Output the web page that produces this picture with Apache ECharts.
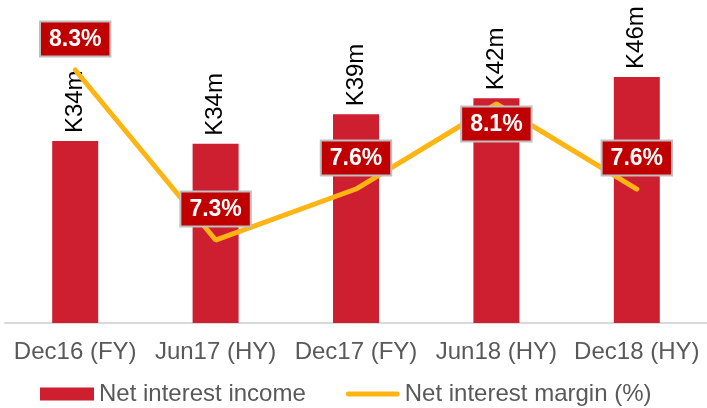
<!DOCTYPE html>
<html>
<head>
<meta charset="utf-8">
<script src="https://cdn.jsdelivr.net/npm/echarts@6/dist/echarts.min.js"></script>
<style>
html,body{margin:0;padding:0;background:#fff;}
#chart{width:707px;height:408px;}
</style>
</head>
<body>
<div id="chart"></div>
<script>
const categories = ['Dec16 (FY)', 'Jun17 (HY)', 'Dec17 (FY)', 'Jun18 (HY)', 'Dec18 (HY)'];
const incomeValues = [34.0, 33.5, 39.0, 42.0, 46.0];
const incomeLabels = ['K34m', 'K34m', 'K39m', 'K42m', 'K46m'];
const marginValues = [8.3, 7.3, 7.6, 8.1, 7.6];
const marginLabels = ['8.3%', '7.3%', '7.6%', '8.1%', '7.6%'];
const marginLabelBelow = [false, false, false, true, false];

const FONT = '"Liberation Sans", Arial, sans-serif';
const LINE_COLOR = '#FFB511';
const chart = echarts.init(document.getElementById('chart'), null, {renderer: 'canvas'});

chart.setOption({
  animation: false,
  backgroundColor: '#ffffff',
  textStyle: {fontFamily: FONT},
  grid: {left: 5, width: 707, top: 2, height: 321, containLabel: false},
  legend: {
    left: 35, top: 377,
    itemWidth: 54, itemHeight: 13, itemGap: 40,
    textStyle: {fontSize: 24, color: '#595959', fontFamily: FONT, padding: [0, 0, 5, 0]},
    data: [
      {name: 'Net interest income', icon: 'rect'},
      {name: 'Net interest margin (%)',
       icon: 'path://M2.5,0 L53.5,0 A2.5,2.5 0 0 1 53.5,5 L2.5,5 A2.5,2.5 0 0 1 2.5,0 Z',
       itemStyle: {color: LINE_COLOR}}
    ]
  },
  xAxis: {
    type: 'category',
    data: categories,
    axisLine: {show: true, lineStyle: {color: '#D9D9D9', width: 2}},
    axisTick: {show: false},
    axisLabel: {fontSize: 24, color: '#595959', margin: 17, fontFamily: FONT, interval: 0}
  },
  yAxis: [
    {type: 'value', min: 0, max: 60, show: false, splitLine: {show: false}},
    {type: 'value', min: 6.812, max: 8.7, show: false, splitLine: {show: false}}
  ],
  series: [
    {
      name: 'Net interest income',
      type: 'bar',
      data: incomeValues,
      barWidth: 46,
      itemStyle: {color: '#CD1F30'},
      label: {
        show: true,
        position: 'top',
        rotate: 90,
        align: 'left',
        verticalAlign: 'middle',
        distance: 8,
        fontSize: 24,
        color: '#000000',
        fontFamily: FONT,
        formatter: p => incomeLabels[p.dataIndex]
      }
    },
    {
      name: 'Net interest margin (%)',
      type: 'line',
      yAxisIndex: 1,
      data: marginValues.map((v, i) => ({
        value: v,
        label: marginLabelBelow[i] ? {position: 'bottom', distance: 3} : {position: 'top', distance: 14}
      })),
      symbol: 'circle',
      symbolSize: 1,
      showSymbol: true,
      itemStyle: {color: LINE_COLOR},
      lineStyle: {color: LINE_COLOR, width: 5, cap: 'round'},
      z: 3,
      label: {
        show: true,
        formatter: p => marginLabels[p.dataIndex],
        color: '#ffffff',
        fontWeight: 'bold',
        fontSize: 23,
        fontFamily: FONT,
        backgroundColor: '#C00000',
        borderColor: '#BFBFBF',
        borderWidth: 2,
        padding: [5, 8, 3, 8],
        lineHeight: 25
      }
    }
  ]
});
</script>
</body>
</html>
